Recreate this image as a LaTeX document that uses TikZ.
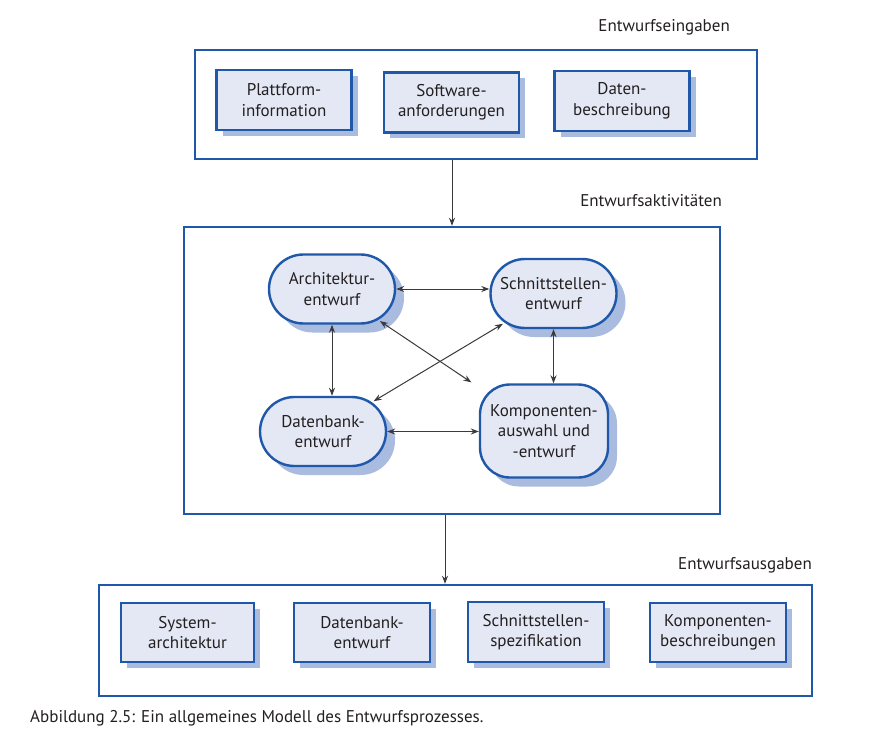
\documentclass[tikz,border=0pt]{standalone}
\usepackage{fontspec}
\setmainfont{PT Sans}
\usetikzlibrary{arrows.meta,shadows,shapes.misc}
\definecolor{frameblue}{HTML}{1F58A8}
\definecolor{boxfill}{HTML}{E3E8F4}
\definecolor{shadowblue}{HTML}{A9BCE0}
\definecolor{textgray}{HTML}{231F20}
\definecolor{arrowgray}{HTML}{3A3A3A}
\begin{document}
\begin{tikzpicture}[x=1pt, y=-1pt, font=\fontsize{17}{20.5}\selectfont, text=textgray]
% Define block styles
\tikzstyle{frame} = [rectangle, draw=frameblue, line width=2.4pt, fill=white]
\tikzstyle{block} = [rectangle, draw=frameblue, line width=2.4pt, fill=boxfill,
    align=center, minimum width=135pt, minimum height=60pt, inner sep=2pt,
    drop shadow={shadow xshift=6pt, shadow yshift=-6pt, fill=shadowblue, opacity=1}]
\tikzstyle{activity} = [rounded rectangle, draw=frameblue, line width=2.4pt,
    fill=boxfill, align=center, minimum width=130pt, minimum height=69pt, inner sep=2pt,
    drop shadow={shadow xshift=9pt, shadow yshift=-9pt, fill=shadowblue, opacity=1}]
\tikzstyle{title} = [anchor=south east, inner sep=0pt]
\tikzstyle{line} = [draw=arrowgray, line width=1pt, -{Stealth[length=8pt,width=6pt]}]
\tikzstyle{both} = [draw=arrowgray, line width=1pt, {Stealth[length=8pt,width=6pt]}-{Stealth[length=8pt,width=6pt]}]

    \useasboundingbox (0,0) rectangle (881,746);
    % Design inputs
    \node [frame, minimum width=562pt, minimum height=109pt] (inputs) at (476,104.5) {};
    \node [title] (inputstitle) at (730,35) {Entwurfseingaben};
    \node [block] (platform) at (284,100) {Plattform-\\information};
    \node [block] (requirements) at (451.5,102.5) {Software-\\anforderungen};
    \node [block] (datadesc) at (622,101) {Daten-\\beschreibung};
    % Design activities
    \node [frame, minimum width=536pt, minimum height=287pt] (activities) at (452,370.5) {};
    \node [title] (activitiestitle) at (722,207) {Entwurfsaktivitäten};
    \node [activity] (archdesign) at (332,289) {Architektur-\\entwurf};
    \node [activity] (ifacedesign) at (553.5,293.5) {Schnittstellen-\\entwurf};
    \node [activity] (dbdesign) at (323,431.5) {Datenbank-\\entwurf};
    \node [activity, rectangle, rounded corners=30pt, minimum width=128pt, minimum height=93pt] (compdesign) at (544,431) {Komponenten-\\auswahl und\\-entwurf};
    % Design outputs
    \node [frame, minimum width=713pt, minimum height=111pt] (outputs) at (455.5,640.5) {};
    \node [title] (outputstitle) at (812,573) {Entwurfsausgaben};
    \node [block, minimum width=133pt, minimum height=59pt] (sysarch) at (187.5,632.5) {System-\\architektur};
    \node [block, minimum width=136pt, minimum height=59pt] (dbspec) at (362,632.5) {Datenbank-\\entwurf};
    \node [block, minimum width=136pt, minimum height=60pt] (ifacespec) at (536,632) {Schnittstellen-\\spezifikation};
    \node [block, minimum width=136pt, minimum height=59pt] (compspec) at (718,632.5) {Komponenten-\\beschreibungen};
    % Caption
    \node [anchor=west, inner sep=0pt] (caption) at (30,718) {Abbildung 2.5: Ein allgemeines Modell des Entwurfsprozesses.};
    % Draw edges
    \path [line] (activities.north |- inputs.south) -- (activities.north);
    \path [line] ([xshift=-7pt]activities.south) -- ([xshift=-7pt]activities.south |- outputs.north);
    \path [both] (archdesign.east) -- (archdesign.east -| ifacedesign.west);
    \path [both] (archdesign.south) -- (archdesign.south |- dbdesign.north);
    \path [both] (ifacedesign.south) -- (ifacedesign.south |- compdesign.north);
    \path [both] (dbdesign.east) -- (dbdesign.east -| compdesign.west);
    \path [both, shorten <=2pt, shorten >=9pt] (archdesign) -- (compdesign);
    \path [both, shorten <=2pt, shorten >=2pt] (ifacedesign) -- (dbdesign);
\end{tikzpicture}
\end{document}
